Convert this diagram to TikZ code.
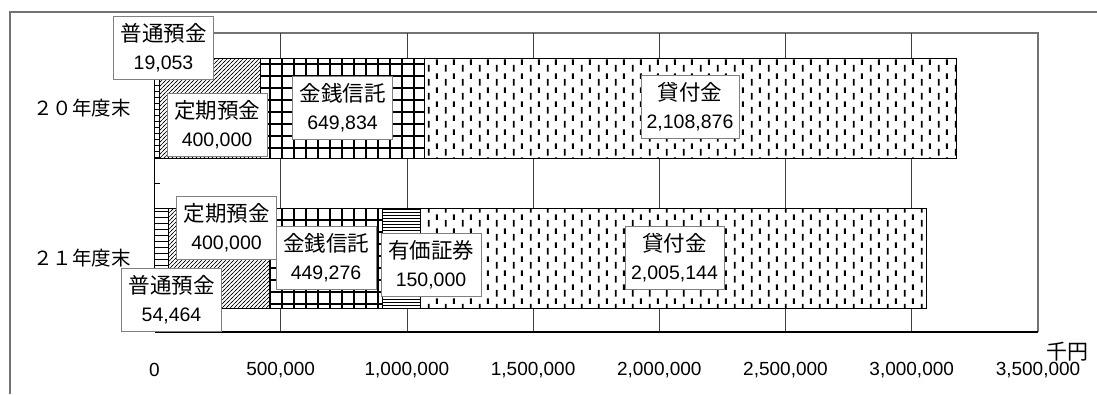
\documentclass[tikz,border=0pt]{standalone}
\usepackage{fontspec}
\setmainfont{Liberation Sans}
\newfontfamily\jp{Noto Sans CJK JP}
\usetikzlibrary{patterns}

\pgfdeclarepatternformonly{hlA}{\pgfpoint{-1pt}{-1pt}}{\pgfpoint{7pt}{7pt}}{\pgfpoint{6pt}{6pt}}{%
  \pgfsetlinewidth{0.9pt}\pgfpathmoveto{\pgfpoint{-1pt}{3pt}}\pgfpathlineto{\pgfpoint{7pt}{3pt}}\pgfusepath{stroke}}
\pgfdeclarepatternformonly{diagA}{\pgfpoint{-1pt}{-1pt}}{\pgfpoint{5pt}{5pt}}{\pgfpoint{4pt}{4pt}}{%
  \pgfsetlinewidth{0.7pt}\pgfpathmoveto{\pgfpoint{-1pt}{-1pt}}\pgfpathlineto{\pgfpoint{5pt}{5pt}}\pgfusepath{stroke}}
\pgfdeclarepatternformonly{gridA}{\pgfpoint{-1pt}{-1pt}}{\pgfpoint{13pt}{13pt}}{\pgfpoint{12pt}{12pt}}{%
  \pgfsetlinewidth{2.2pt}\pgfpathmoveto{\pgfpoint{6pt}{-1pt}}\pgfpathlineto{\pgfpoint{6pt}{13pt}}%
  \pgfpathmoveto{\pgfpoint{-1pt}{6pt}}\pgfpathlineto{\pgfpoint{13pt}{6pt}}\pgfusepath{stroke}}
\pgfdeclarepatternformonly{hlB}{\pgfpoint{-1pt}{-1pt}}{\pgfpoint{4pt}{4pt}}{\pgfpoint{3pt}{3pt}}{%
  \pgfsetlinewidth{1.1pt}\pgfpathmoveto{\pgfpoint{-1pt}{1.5pt}}\pgfpathlineto{\pgfpoint{4pt}{1.5pt}}\pgfusepath{stroke}}
\pgfdeclarepatternformonly{dashA}{\pgfpoint{0pt}{0pt}}{\pgfpoint{17pt}{14pt}}{\pgfpoint{17pt}{14pt}}{%
  \pgfsetlinewidth{2pt}\pgfpathmoveto{\pgfpoint{4pt}{0.5pt}}\pgfpathlineto{\pgfpoint{4pt}{7.5pt}}%
  \pgfpathmoveto{\pgfpoint{12.5pt}{7.5pt}}\pgfpathlineto{\pgfpoint{12.5pt}{13.5pt}}\pgfusepath{stroke}}

\begin{document}
\begin{tikzpicture}[x=1pt,y=-1pt,
  barseg/.style={preaction={fill=white}, pattern=#1, draw=black, line width=0.8pt},
  lbl/.style={draw=black!50, fill=white, line width=0.9pt, minimum width=100pt, minimum height=63pt,
    inner sep=0pt, align=center, font=\fontsize{19.5}{28}\selectfont},
  ticklbl/.style={font=\fontsize{19}{22}\selectfont, inner sep=0pt},
  catlbl/.style={font=\jp\fontsize{19.5}{22}\selectfont, inner sep=0pt, anchor=east},
  grid line/.style={draw=black!75, line width=0.7pt}
]
\useasboundingbox (0,0) rectangle (1097,394);
\fill[white] (0,0) rectangle (1097,394);
% outer frame
\draw[black!55, line width=1.4pt] (10,394) -- (10,12) -- (1097,12);
% plot area frame
\draw[black!55, line width=1.5pt] (154.5,332) -- (154.5,33) -- (1038,33) -- (1038,332);
% grid lines
\foreach \gx in {280.7,406.9,533.1,659.3,785.5,911.7}
  \draw[grid line] (\gx,33) -- (\gx,332);

% 20 bar
\draw[barseg=hlA]   (154.5,58) rectangle (159.3,158);
\draw[barseg=diagA] (159.3,58) rectangle (260.3,158);
\draw[barseg=gridA] (260.3,58) rectangle (424.3,158);
\draw[barseg=dashA] (424.3,58) rectangle (956.6,158);
% 21 bar
\draw[barseg=hlA]   (154.5,208) rectangle (168.2,308);
\draw[barseg=diagA] (168.2,208) rectangle (269.2,308);
\draw[barseg=gridA] (269.2,208) rectangle (382.6,308);
\draw[barseg=hlB]   (382.6,208) rectangle (420.5,308);
\draw[barseg=dashA] (420.5,208) rectangle (926.6,308);

% axes
\draw[black, line width=1pt] (154.5,33) -- (154.5,332);
\draw[black, line width=1.4pt] (154.5,332) -- (1038,332);
\draw[black, line width=0.8pt] (154.5,183) -- (160,183);

% category labels
\node[catlbl] (c20) at (131,108) {２０年度末};
\node[catlbl] (c21) at (131,258) {２１年度末};

% tick labels
\node[ticklbl] (t0) at (154.5,370) {0};
\node[ticklbl] (t1) at (280.7,370) {500,000};
\node[ticklbl] (t2) at (406.9,370) {1,000,000};
\node[ticklbl] (t3) at (533.1,370) {1,500,000};
\node[ticklbl] (t4) at (659.3,370) {2,000,000};
\node[ticklbl] (t5) at (785.5,370) {2,500,000};
\node[ticklbl] (t6) at (911.7,370) {3,000,000};
\node[ticklbl] (t7) at (1038,370) {3,500,000};
\node[font=\jp\fontsize{21}{22}\selectfont, inner sep=0pt] (unit) at (1067,352) {千円};

% data labels
\node[lbl] (a1) at (163.5,47.5) {{\jp\fontsize{21.5}{28}\selectfont 普通預金}\\19,053};
\node[lbl] (a2) at (217,125)    {{\jp\fontsize{21.5}{28}\selectfont 定期預金}\\400,000};
\node[lbl] (a3) at (342.5,107.5){{\jp\fontsize{21.5}{28}\selectfont 金銭信託}\\649,834};
\node[lbl, minimum width=98pt] (a4) at (690,107) {{\jp\fontsize{21.5}{28}\selectfont 貸付金}\\2,108,876};
\node[lbl] (b2) at (226.5,227.5){{\jp\fontsize{21.5}{28}\selectfont 定期預金}\\400,000};
\node[lbl] (b3) at (326,258)    {{\jp\fontsize{21.5}{28}\selectfont 金銭信託}\\449,276};
\node[lbl] (b4) at (431,265)    {{\jp\fontsize{21.5}{28}\selectfont 有価証券}\\150,000};
\node[lbl] (b1) at (171.5,300)  {{\jp\fontsize{21.5}{28}\selectfont 普通預金}\\54,464};
\node[lbl, minimum width=99pt] (b5) at (674.5,257.5) {{\jp\fontsize{21.5}{28}\selectfont 貸付金}\\2,005,144};
\end{tikzpicture}
\end{document}
